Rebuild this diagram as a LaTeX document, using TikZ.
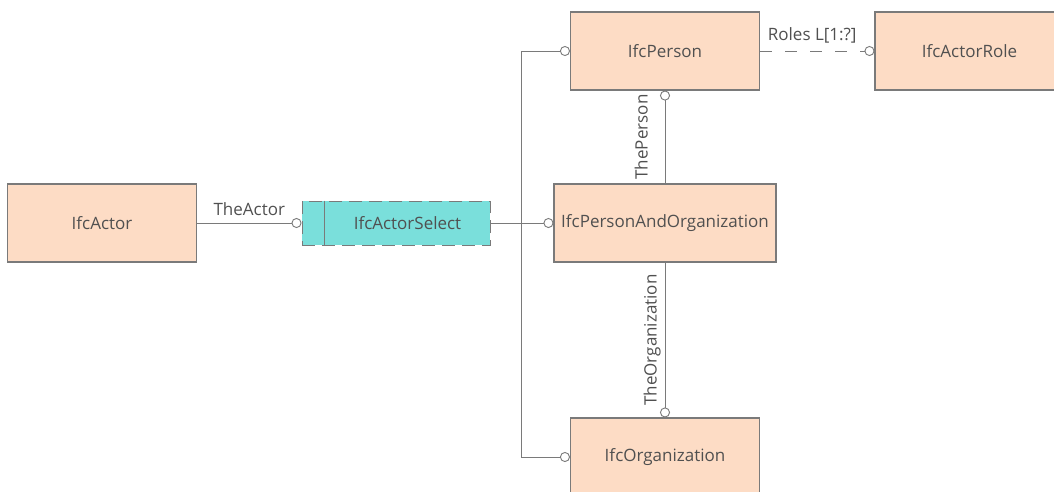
\documentclass[tikz,border=0pt]{standalone}
\usepackage{fontspec}
\setmainfont{Open Sans}
\usetikzlibrary{positioning, arrows.meta}
\definecolor{boxfill}{HTML}{FDDCC5}
\definecolor{selfill}{HTML}{7ADFDB}
\definecolor{edgegray}{HTML}{7A7A7A}
\definecolor{txtgray}{HTML}{505050}

\begin{document}
\begin{tikzpicture}[x=1pt,y=-1pt,on grid,
    font=\fontsize{17}{20}\selectfont, text=txtgray,
    entity/.style={draw=edgegray, line width=1.1pt, fill=boxfill,
      minimum width=189pt, minimum height=78pt, inner sep=0pt},
    choice/.style={draw=edgegray, line width=1pt, dash pattern=on 13pt off 7pt,
      fill=selfill, minimum width=188pt, minimum height=44pt, inner sep=0pt},
    link/.style={draw=edgegray, line width=0.9pt,
      -{Circle[fill=white,length=10pt,width=10pt]}},
    tag/.style={inner sep=2pt, text depth=0pt}]
  \clip (0,0) rectangle (1054,491);
  \node[entity] (actor) at (102,223) {IfcActor};
  \node[choice] (select) [right=294pt of actor] {\hspace*{23pt}IfcActorSelect};
  \draw[edgegray, line width=1pt] ([xshift=23pt]select.north west) -- ([xshift=23pt]select.south west);
  \node[entity, minimum width=222pt] (pao) [right=269pt of select] {IfcPersonAndOrganization};
  \node[entity] (person) [above=172pt of pao] {IfcPerson};
  \node[entity] (org) [below=234pt of pao] {IfcOrganization};
  \node[entity] (role) [right=304.5pt of person] {IfcActorRole};
  \coordinate (bus) at (521,223);

  \path[link]
  (actor) edge node[tag, midway, above=5pt] {TheActor} (select)
  (select) edge (pao)
  (pao) edge node[tag, midway, sloped, above=15pt] {ThePerson} (person)
  (person) edge[dash pattern=on 12pt off 13pt] node[tag, fill=white, midway, above=8pt, xshift=-5pt] {Roles L[1:?]} (role);
  \draw[link] (bus |- org.west) |- (person.west);
  \draw[link] (bus |- org.west) -- (org.west);
  \draw[link, {Circle[fill=white,length=10pt,width=10pt]}-] (org) -- node[tag, midway, sloped, above=6pt] {TheOrganization} (pao);
\end{tikzpicture}
\end{document}
